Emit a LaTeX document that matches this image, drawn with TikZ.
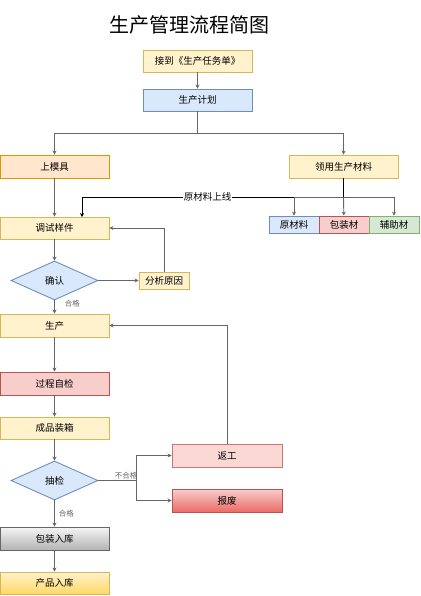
\documentclass[tikz,border=0pt]{standalone}
\usepackage{fontspec}
\setmainfont{Noto Sans CJK SC}
\usetikzlibrary{arrows.meta,shapes.geometric}
\definecolor{ylfill}{HTML}{FFF2CC}
\definecolor{yldraw}{HTML}{D6B656}
\definecolor{ylgrad}{HTML}{FFD966}
\definecolor{blfill}{HTML}{DAE8FC}
\definecolor{bldraw}{HTML}{6C8EBF}
\definecolor{orfill}{HTML}{FFE6CC}
\definecolor{ordraw}{HTML}{D79B00}
\definecolor{rdfill}{HTML}{F8CECC}
\definecolor{rddraw}{HTML}{B85450}
\definecolor{rdgrad}{HTML}{EA6B66}
\definecolor{pkfill}{HTML}{FAD9D5}
\definecolor{gnfill}{HTML}{D5E8D4}
\definecolor{gndraw}{HTML}{82B366}
\definecolor{grtop}{HTML}{F5F5F5}
\definecolor{grbot}{HTML}{B3B3B3}
\definecolor{linegray}{HTML}{666666}
\begin{document}
\begin{tikzpicture}[x=1pt,y=-1pt,
    box/.style={draw,line width=0.9pt,inner sep=0pt,minimum width=109pt,minimum height=22pt,font=\fontsize{9.5}{11}\selectfont},
    small/.style={box,minimum width=50pt,minimum height=17pt},
    decide/.style={diamond,draw=bldraw,fill=blfill,line width=0.9pt,inner sep=0pt,minimum width=87pt,minimum height=39pt,font=\fontsize{9.5}{11}\selectfont},
    yl/.style={draw=yldraw,fill=ylfill},
    bl/.style={draw=bldraw,fill=blfill},
    rd/.style={draw=rddraw,fill=rdfill},
    tag/.style={font=\fontsize{7.5}{9}\selectfont,text=linegray,inner sep=1pt},
    >={Stealth[length=4pt,width=4pt]}, line width=0.9pt]
        \useasboundingbox (0,0) rectangle (420,596);
        \node[font=\fontsize{20}{24}\selectfont] (title) at (189,25) {生产管理流程简图};

        \node[box,yl] (task) at (197.5,61) {接到《生产任务单》};
        \node[box,bl] (plan) at (197.5,100) {生产计划};
        \node[box,draw=ordraw,fill=orfill,minimum height=23pt] (mould) at (54.5,166.5) {上模具};
        \node[box,yl,minimum height=23pt] (fetch) at (343.5,166.5) {领用生产材料};

        \node[small,bl] (raw) at (294,224.5) {原材料};
        \node[small,rd] (pack) at (344,224.5) {包装材};
        \node[small,draw=gndraw,fill=gnfill] (aux) at (394,224.5) {辅助材};

        \node[box,yl] (debug) at (54.5,228) {调试样件};
        \node[decide] (confirm) at (54.5,280.5) {确认};
        \node[small,yl] (reason) at (164,280.5) {分析原因};
        \node[box,yl,minimum height=23pt] (produce) at (54.5,325.5) {生产};
        \node[box,rd,minimum height=23pt] (selfcheck) at (54.5,383.5) {过程自检};
        \node[box,yl] (boxing) at (54.5,428) {成品装箱};
        \node[decide] (sample) at (54.5,480.5) {抽检};
        \node[box,draw=rddraw!80!white,fill=pkfill,minimum width=110pt,minimum height=23pt] (rework) at (227,455.5) {返工};
        \node[box,draw=rddraw,top color=rdfill,bottom color=rdgrad,minimum width=110pt,minimum height=23pt] (scrap) at (227,500.5) {报废};
        \node[box,draw=linegray,top color=grtop,bottom color=grbot,minimum height=23pt] (store) at (54.5,538.5) {包装入库};
        \node[box,draw=yldraw,top color=ylfill,bottom color=ylgrad,minimum height=22pt] (product) at (54.5,583) {产品入库};

        \coordinate (split) at (197.5,133);
        \coordinate (bar) at (343.5,197);
        \coordinate (feed) at (82,217);
        \coordinate (fork) at (136,480.5);

        % top of the flow
        \draw[->,linegray] (task) -- (plan);
        \draw[linegray] (plan) -- (split);
        \draw[->,linegray] (split) -| (mould);
        \draw[->,linegray] (split) -| (fetch);

        % materials
        \draw (fetch) -- (bar);
        \draw[->] (bar) -| node[pos=0.26,fill=white,inner sep=0.5pt,font=\fontsize{9.5}{11}\selectfont] {原材料上线} (feed);
        \draw[->,linegray] (bar) -| (raw);
        \draw[->,linegray] (bar) -- (pack);
        \draw[->,linegray] (bar) -| (aux);

        % sample run
        \draw[->,linegray] (mould) -- (debug);
        \draw[->,linegray] (debug) -- (confirm);
        \draw[->,linegray] (confirm) -- (reason);
        \draw[->,linegray] (reason) |- (debug);
        \draw[->,linegray] (confirm) -- node[tag,pos=0.25,anchor=west,xshift=9pt] {合格} (produce);

        % production
        \draw[->,linegray] (produce) -- (selfcheck);
        \draw[->,linegray] (selfcheck) -- (boxing);
        \draw[->,linegray] (boxing) -- (sample);
        \draw[linegray] (sample) -- node[tag,pos=0.74,above] {不合格} (fork);
        \draw[->,linegray] (fork) |- (rework);
        \draw[->,linegray] (fork) |- (scrap);
        \draw[->,linegray] (rework) |- (produce);
        \draw[->,linegray] (sample) -- node[tag,pos=0.5,anchor=west,xshift=3pt] {合格} (store);
        \draw[->,linegray] (store) -- (product);
    \end{tikzpicture}
\end{document}
